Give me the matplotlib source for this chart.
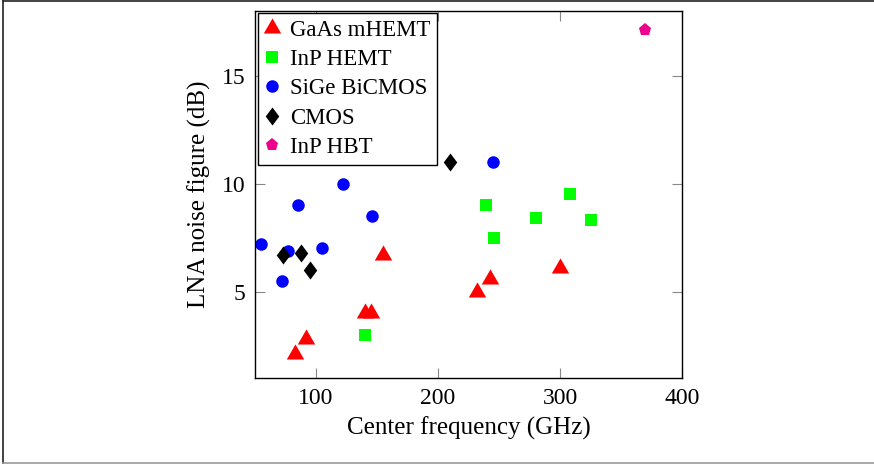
import matplotlib
matplotlib.use("Agg")
import matplotlib.pyplot as plt
from matplotlib.lines import Line2D

# ---- data ----
gaas_x = [83, 92, 140, 145, 155, 232, 243, 300]
gaas_y = [2.1, 2.8, 4.0, 4.0, 6.7, 5.0, 5.6, 6.1]

inp_hemt_x = [140, 239, 246, 280, 308, 325]
inp_hemt_y = [3.0, 9.0, 7.5, 8.4, 9.5, 8.3]

sige_x = [55, 72, 77, 85.5, 105, 122, 146, 245]
sige_y = [7.2, 5.5, 6.9, 9.0, 7.0, 10.0, 8.5, 11.0]

cmos_x = [73, 87.5, 95, 210]
cmos_y = [6.7, 6.8, 6.0, 11.0]

inp_hbt_x = [370]
inp_hbt_y = [17.1]

series_labels = ["GaAs mHEMT", "InP HEMT", "SiGe BiCMOS", "CMOS", "InP HBT"]
x_ticks = [100, 200, 300, 400]
y_ticks = [5, 10, 15]

plt.rcParams['font.family'] = ['Liberation Serif', 'DejaVu Serif']

fig = plt.figure(figsize=(8.74, 4.65), dpi=100)
W, H = 874, 465
ax = fig.add_axes([255 / W, 1 - 378 / H, (682 - 255) / W, (378 - 10.7) / H])

tri = [(0, 1.0), (-0.866, -0.5), (0.866, -0.5)]
diamond = [(0, 1), (0.75, 0), (0, -1), (-0.75, 0)]

ax.plot(gaas_x, gaas_y, linestyle='none', marker=tri, markersize=14.5,
        color='#ff0000', markeredgewidth=0, label=series_labels[0])
ax.plot(inp_hemt_x, inp_hemt_y, linestyle='none', marker='s', markersize=8.4,
        color='#00ff00', markeredgewidth=0, label=series_labels[1])
ax.plot(sige_x, sige_y, linestyle='none', marker='o', markersize=9,
        color='#0000ff', markeredgewidth=0, label=series_labels[2])
ax.plot(cmos_x, cmos_y, linestyle='none', marker=diamond, markersize=13,
        color='black', markeredgewidth=0, label=series_labels[3])
ax.plot(inp_hbt_x, inp_hbt_y, linestyle='none', marker='p', markersize=9.5,
        color='#ec008c', markeredgewidth=0, label=series_labels[4])

ax.set_xlim(50, 400)
ax.set_ylim(1, 18)
ax.set_xticks(x_ticks)
ax.set_yticks(y_ticks)
ax.tick_params(direction='in', length=7.5, width=0.8, color='#888888',
               top=True, right=True, labelsize=17, pad=7)
for s in ax.spines.values():
    s.set_linewidth(1.0)
    s.set_color('black')

ax.set_xlabel('Center frequency (GHz)', fontsize=18, labelpad=6)
ax.set_ylabel('LNA noise figure (dB)', fontsize=18, labelpad=8)

leg = ax.legend(loc='upper left', bbox_to_anchor=(0.007, 0.994),
                borderaxespad=0, fontsize=16.5, frameon=True, fancybox=False,
                edgecolor='black', numpoints=1, handlelength=0.6,
                handletextpad=0.5, labelspacing=0.36, borderpad=0.3)
leg.get_frame().set_linewidth(1.0)
leg.get_frame().set_alpha(1)

# outer frame
fig.add_artist(Line2D([2.5 / W, 1], [1 - 1.5 / H, 1 - 1.5 / H], color='#222222', linewidth=1.2, transform=fig.transFigure))
fig.add_artist(Line2D([2.5 / W, 2.5 / W], [1 - 1.5 / H, 1 - 463 / H], color='#222222', linewidth=1.2, transform=fig.transFigure))
fig.add_artist(Line2D([2.5 / W, 1], [1 - 463 / H, 1 - 463 / H], color='#999999', linewidth=1.2, transform=fig.transFigure))

fig.savefig('out.png', dpi=100)
